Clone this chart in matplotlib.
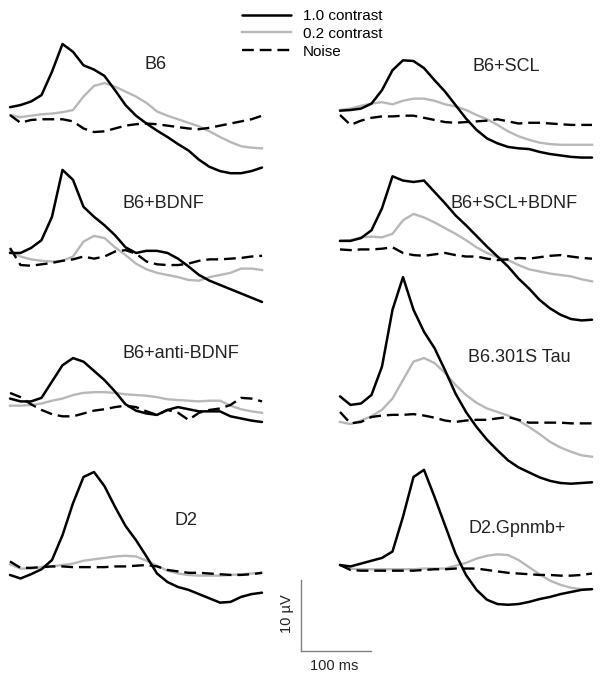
import numpy as np
import matplotlib.pyplot as plt

plt.rcParams['font.family'] = ['Liberation Sans', 'DejaVu Sans']

# tiempo de muestreo (ms) comun a todas las trazas
t_ms = [0, 15, 30, 45, 60, 75, 90, 105, 120, 135, 150, 165, 180,
        195, 210, 225, 240, 255, 270, 285, 300, 315, 330, 345, 360]

# ---- datos (uV) ----------------------------------------------------------
b6_c10 = [1.1, 1.4, 1.9, 2.8, 6.1, 10.0, 8.9, 7.0, 6.4, 5.5, 3.5, 1.4, -0.1,
          -1.2, -2.2, -3.1, -4.1, -5.0, -6.3, -7.3, -7.9, -8.2, -8.2, -7.9, -7.4]
b6_c02 = [0.0, -0.3, -0.1, 0.1, 0.2, 0.4, 0.7, 2.6, 4.1, 4.5, 4.0, 3.3, 2.6,
          1.7, 0.5, -0.1, -0.6, -1.1, -1.6, -2.3, -3.1, -3.8, -4.4, -4.6, -4.7]
b6_ruido = [0.0, -1.1, -0.7, -0.6, -0.6, -0.6, -0.9, -1.9, -2.4, -2.3, -1.9, -1.5, -1.3,
            -1.2, -1.3, -1.5, -1.7, -1.9, -2.0, -1.8, -1.5, -1.2, -0.9, -0.6, -0.1]

scl_c10 = [-0.1, 0.0, 0.2, 0.9, 2.8, 5.6, 7.0, 6.9, 5.9, 4.2, 2.6, 0.7, -1.2,
           -2.8, -4.0, -4.7, -5.2, -5.4, -5.5, -5.9, -6.2, -6.4, -6.6, -6.7, -6.7]
scl_c02 = [0.0, 0.2, 0.6, 0.9, 1.1, 0.8, 1.3, 1.6, 1.6, 1.3, 0.8, 0.5, 0.0,
           -0.7, -1.3, -2.1, -3.0, -3.7, -4.2, -4.6, -4.8, -4.9, -4.9, -4.9, -4.9]
scl_ruido = [-0.7, -2.1, -1.5, -1.1, -0.9, -0.9, -0.8, -0.8, -1.1, -1.4, -1.7, -1.8, -1.7,
             -1.6, -1.5, -1.3, -1.6, -1.9, -1.8, -1.8, -1.9, -2.0, -2.1, -2.1, -2.1]

bdnf_c10 = [-0.7, -0.7, 0.0, 1.1, 4.4, 11.0, 9.6, 5.8, 4.4, 3.2, 1.8, 0.1, -0.7,
            -0.4, -0.4, -0.7, -1.5, -2.6, -3.8, -4.6, -5.2, -5.8, -6.4, -7.0, -7.6]
bdnf_c02 = [-0.5, -1.2, -1.6, -1.8, -1.9, -1.8, -1.2, 0.9, 1.7, 1.4, 0.1, -1.0, -2.2,
            -3.0, -3.5, -3.8, -4.1, -4.5, -4.6, -4.1, -3.8, -3.5, -2.9, -2.9, -3.1]
bdnf_ruido = [0.0, -2.4, -2.5, -2.3, -2.1, -1.8, -1.6, -1.2, -1.5, -1.2, -0.5, -0.3, -0.8,
              -1.9, -2.3, -2.4, -2.4, -2.2, -1.8, -1.6, -1.6, -1.5, -1.4, -1.2, -1.1]

sclbdnf_c10 = [1.0, 1.0, 1.4, 2.5, 5.6, 10.1, 9.5, 9.3, 9.5, 7.9, 6.3, 4.6, 3.2,
               1.7, 0.2, -1.2, -2.6, -4.3, -5.7, -7.3, -8.5, -9.4, -10.0, -10.2, -10.1]
sclbdnf_c02 = [1.0, 1.1, 1.5, 1.6, 1.5, 2.0, 3.9, 4.8, 4.3, 3.6, 2.8, 2.0, 1.1,
               0.1, -0.7, -1.3, -1.7, -2.4, -3.0, -3.3, -3.6, -3.8, -4.0, -4.4, -4.7]
sclbdnf_ruido = [-0.2, -0.3, -0.2, -0.2, -0.1, 0.1, -0.7, -1.0, -1.1, -0.9, -0.7, -1.0, -1.2,
                 -1.2, -1.5, -1.7, -1.6, -1.4, -1.5, -1.3, -1.1, -1.0, -1.2, -1.4, -1.5]

anti_c10 = [0.2, -0.2, -0.2, 0.3, 2.6, 4.9, 5.9, 5.4, 4.1, 2.8, 1.2, -0.6, -1.5,
            -1.9, -2.1, -1.4, -1.0, -1.3, -1.6, -1.6, -1.6, -2.3, -2.6, -2.9, -3.1]
anti_c02 = [-0.8, -0.8, -0.7, -0.5, -0.1, 0.2, 0.7, 1.0, 1.1, 1.1, 1.0, 0.8, 0.7,
            0.6, 0.4, 0.1, 0.0, -0.1, -0.2, -0.1, -0.1, -0.8, -1.3, -1.6, -1.8]
anti_ruido = [1.0, 0.4, -0.6, -1.4, -2.0, -2.3, -2.3, -1.9, -1.5, -1.3, -1.0, -0.8, -1.0,
              -1.6, -2.1, -1.4, -1.8, -2.8, -1.8, -1.4, -1.2, -0.7, 0.3, 0.2, -0.2]

tau_c10 = [2.2, 1.0, 1.2, 2.4, 6.4, 14.4, 19.0, 14.4, 11.3, 9.0, 5.9, 2.6, 0.0,
           -2.1, -3.9, -5.4, -6.8, -7.8, -8.5, -9.2, -9.7, -10.0, -10.1, -10.0, -9.9]
tau_c02 = [-1.4, -1.7, -1.2, -0.6, 0.3, 1.9, 4.5, 7.1, 7.6, 6.9, 5.5, 3.8, 2.4,
           1.3, 0.5, 0.0, -0.5, -1.2, -2.1, -3.1, -4.2, -5.0, -5.6, -6.1, -6.3]
tau_ruido = [0.0, -1.6, -1.4, -0.7, -0.5, -0.4, -0.4, -0.3, -0.5, -0.8, -1.2, -1.4, -1.2,
             -1.1, -1.1, -0.9, -0.7, -1.1, -1.5, -1.5, -1.5, -1.5, -1.6, -1.6, -1.6]

d2_c10 = [-1.4, -1.9, -1.3, -0.6, 0.7, 4.2, 8.7, 12.4, 13.1, 11.1, 8.2, 5.5, 3.5,
          1.2, -1.2, -2.4, -3.1, -3.5, -4.1, -4.7, -5.3, -5.2, -4.5, -4.1, -3.9]
d2_c02 = [0.1, -0.5, -0.5, -0.3, -0.2, 0.0, 0.2, 0.6, 0.8, 1.0, 1.2, 1.3, 1.2,
          0.6, -0.1, -0.8, -1.2, -1.4, -1.5, -1.5, -1.5, -1.4, -1.3, -1.2, -1.1]
d2_ruido = [0.5, -0.4, -0.4, -0.3, -0.2, -0.2, -0.3, -0.3, -0.3, -0.3, -0.2, -0.2, -0.1,
            0.0, -0.2, -0.7, -0.9, -1.1, -1.1, -1.2, -1.3, -1.4, -1.4, -1.3, -1.1]

gp_c10 = [0.0, -0.2, 0.2, 0.6, 1.0, 1.9, 6.8, 12.4, 13.4, 9.6, 5.6, 1.6, -1.4,
          -3.5, -4.9, -5.5, -5.6, -5.5, -5.2, -4.8, -4.5, -4.1, -3.8, -3.5, -3.4]
gp_c02 = [0.0, -0.5, -0.6, -0.6, -0.6, -0.6, -0.6, -0.6, -0.5, -0.5, -0.5, -0.1, 0.3,
          0.9, 1.3, 1.5, 1.4, 0.7, -0.3, -1.3, -2.2, -2.8, -3.2, -3.4, -3.4]
gp_ruido = [0.0, -0.7, -0.8, -0.8, -0.8, -0.8, -0.8, -0.8, -0.7, -0.6, -0.6, -0.5, -0.5,
            -0.5, -0.7, -0.9, -1.1, -1.2, -1.3, -1.4, -1.4, -1.5, -1.5, -1.4, -1.2]

nombres = ['B6', 'B6+SCL', 'B6+BDNF', 'B6+SCL+BDNF',
           'B6+anti-BDNF', 'B6.301S Tau', 'D2', 'D2.Gpnmb+']
trazas = [(b6_c10, b6_c02, b6_ruido), (scl_c10, scl_c02, scl_ruido),
          (bdnf_c10, bdnf_c02, bdnf_ruido), (sclbdnf_c10, sclbdnf_c02, sclbdnf_ruido),
          (anti_c10, anti_c02, anti_ruido), (tau_c10, tau_c02, tau_ruido),
          (d2_c10, d2_c02, d2_ruido), (gp_c10, gp_c02, gp_ruido)]
leyenda = ['1.0 contrast', '0.2 contrast', 'Noise']

# ---- layout en pixeles ----------------------------------------------------
W, H = 602, 682
PX_MS = 0.7    # pixeles por ms
PX_UV = 7.1    # pixeles por uV
origen = [(10, 115), (340, 110), (10, 248), (340, 248),
          (10, 400), (340, 412), (10, 565), (340, 565)]
pos_nombre = [(145, 69), (472, 71), (123, 208), (450, 208),
              (122, 358), (468, 362), (175, 525), (468, 533)]

fig = plt.figure(figsize=(W / 100, H / 100), dpi=100)


def panel(x0, ybase):
    # ejes con la misma escala ms / uV para todos los paneles
    ax = fig.add_axes([x0 / W, (H - ybase - 12 * PX_UV) / H,
                       360 * PX_MS / W, 24 * PX_UV / H])
    ax.set_xlim(0, 360)
    ax.set_ylim(-12, 12)
    ax.axis('off')
    return ax


estilo_c10 = dict(color='black', lw=1.8, solid_capstyle='round')
estilo_c02 = dict(color='#b8b8b8', lw=1.7)
estilo_ruido = dict(color='black', lw=1.7, dashes=(5, 2.5))

handles = None
for i, nombre in enumerate(nombres):
    ax = panel(*origen[i])
    c10, c02, ruido = trazas[i]
    h2, = ax.plot(t_ms, c02, clip_on=False, zorder=1, **estilo_c02)
    h3, = ax.plot(t_ms, ruido, clip_on=False, zorder=2, **estilo_ruido)
    h1, = ax.plot(t_ms, c10, clip_on=False, zorder=3, **estilo_c10)
    if handles is None:
        handles = [h1, h2, h3]
    fig.text(pos_nombre[i][0] / W, 1 - pos_nombre[i][1] / H, nombre,
             fontsize=13, ha='left', va='baseline', color='#222222')

fig.legend(handles, leyenda, loc='upper left',
           bbox_to_anchor=(242 / W, 1 - 9 / H), frameon=False, fontsize=11,
           handlelength=3.2, handletextpad=0.8, labelspacing=0.25,
           borderpad=0, borderaxespad=0)

# barra de escala: 100 ms x 10 uV
esc = panel(300.7, 651)
esc.plot([0, 0], [0, 10], color='#808080', lw=1.0, clip_on=False)
esc.plot([0, 100], [0, 0], color='#808080', lw=1.0, clip_on=False)
fig.text(287 / W, 1 - 614 / H, '10 µV', rotation=90, fontsize=10.5,
         ha='center', va='center', color='#222222')
fig.text(334 / W, 1 - 666 / H, '100 ms', fontsize=10.5,
         ha='center', va='center', color='#222222')

fig.savefig('out.png', dpi=100, facecolor='white')
